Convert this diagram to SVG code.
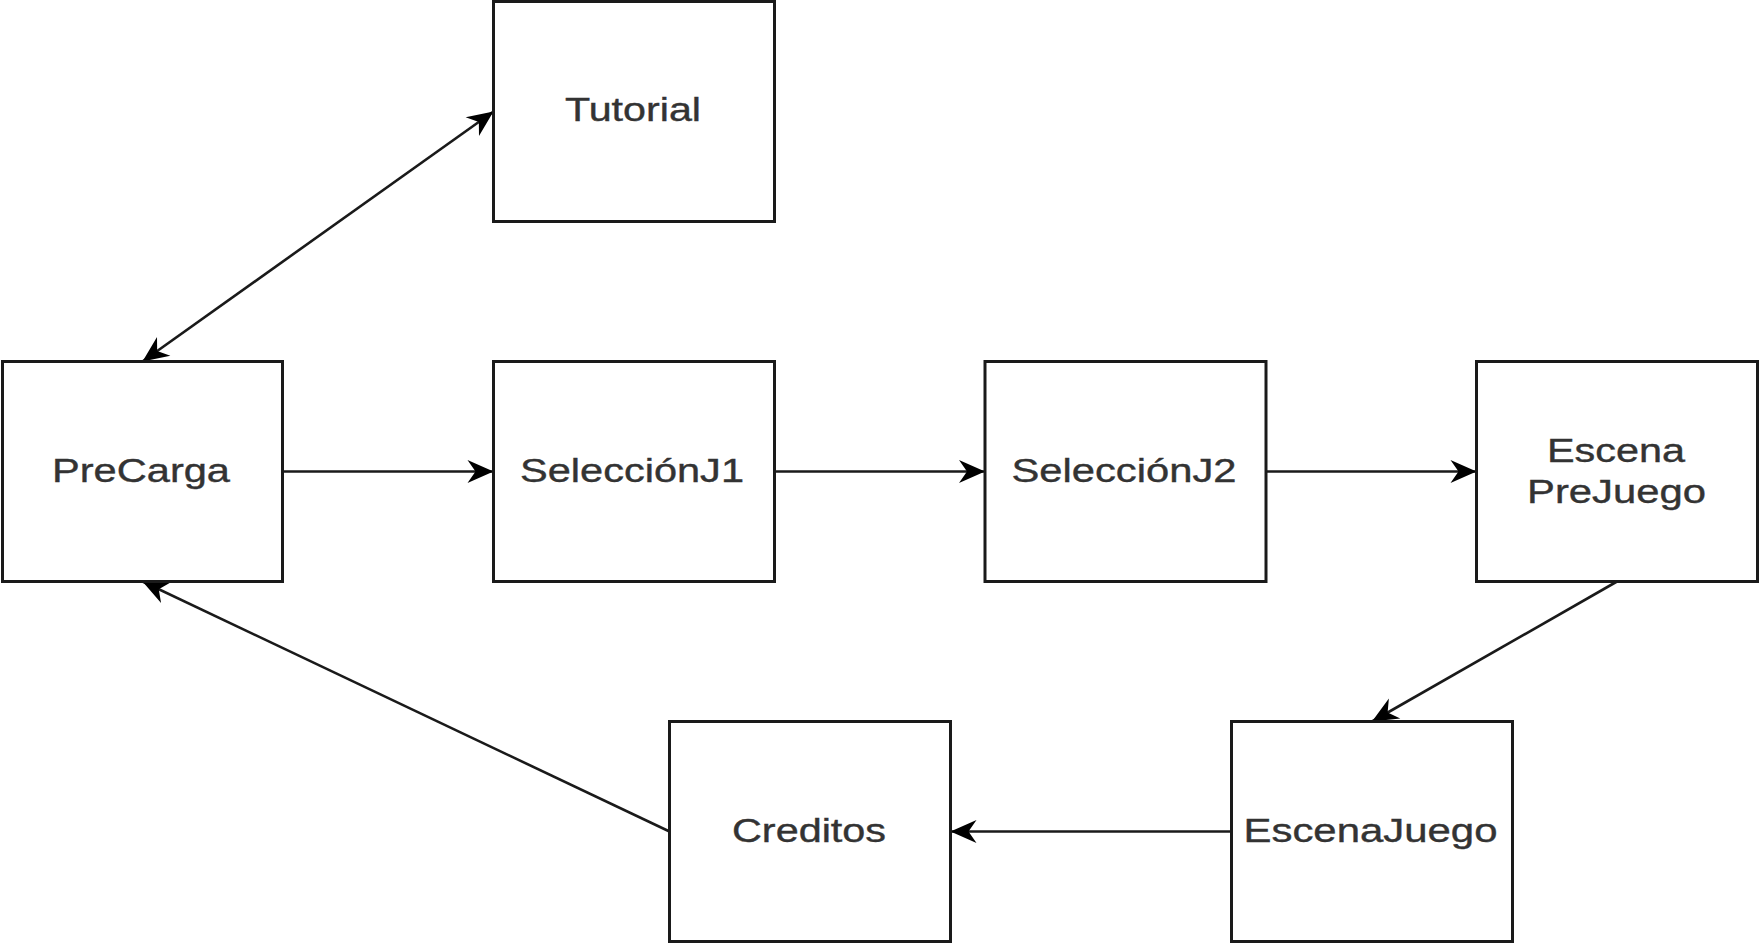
<svg xmlns="http://www.w3.org/2000/svg" width="1760" height="947" viewBox="0 0 1760 947">
<style>
.box{fill:#fff;stroke:#1a1a1a;stroke-width:3}
.lbl{font-family:"Liberation Sans",Arial,sans-serif;font-size:34px;fill:#333;text-anchor:middle;stroke:#333;stroke-width:0.4}
.edge{fill:none;stroke:#1a1a1a;stroke-width:2.6}
</style>
<defs>
<marker id="arr" viewBox="-28 -13 30 26" refX="0" refY="0" markerWidth="30" markerHeight="26" markerUnits="userSpaceOnUse" orient="auto-start-reverse">
<path d="M0,0 L-26,-11.5 L-18,0 L-26,11.5 Z" fill="#000"/>
</marker>
</defs>
<rect width="1760" height="947" fill="#fff"/>
<g id="connectors">
<line class="edge" x1="142.5" y1="361.5" x2="493.5" y2="111.5" marker-start="url(#arr)" marker-end="url(#arr)"/>
<line class="edge" x1="282.5" y1="471.5" x2="493.5" y2="471.5" marker-end="url(#arr)"/>
<line class="edge" x1="774.5" y1="471.5" x2="985" y2="471.5" marker-end="url(#arr)"/>
<line class="edge" x1="1265.5" y1="471.5" x2="1476.5" y2="471.5" marker-end="url(#arr)"/>
<line class="edge" x1="1617" y1="581.5" x2="1372" y2="721.5" marker-end="url(#arr)"/>
<line class="edge" x1="1231.5" y1="831.5" x2="950.5" y2="831.5" marker-end="url(#arr)"/>
<line class="edge" x1="669.5" y1="831.5" x2="142.5" y2="581.5" marker-end="url(#arr)"/>
</g>
<g id="tutorial">
<rect class="box" x="493.5" y="1.5" width="281" height="220"/>
<text class="lbl" x="633" y="120.7" textLength="136" lengthAdjust="spacingAndGlyphs">Tutorial</text>
</g>
<g id="precarga">
<rect class="box" x="2.5" y="361.5" width="280" height="220"/>
<text class="lbl" x="141" y="481.7" textLength="178" lengthAdjust="spacingAndGlyphs">PreCarga</text>
</g>
<g id="seleccionj1">
<rect class="box" x="493.5" y="361.5" width="281" height="220"/>
<text class="lbl" x="632" y="481.7" textLength="224" lengthAdjust="spacingAndGlyphs">SelecciónJ1</text>
</g>
<g id="seleccionj2">
<rect class="box" x="985" y="361.5" width="281" height="220"/>
<text class="lbl" x="1124" y="481.7" textLength="225" lengthAdjust="spacingAndGlyphs">SelecciónJ2</text>
</g>
<g id="escenaprejuego">
<rect class="box" x="1476.5" y="361.5" width="281" height="220"/>
<text class="lbl" x="1616" y="461.7" textLength="138" lengthAdjust="spacingAndGlyphs">Escena</text>
<text class="lbl" x="1616.5" y="503.3" textLength="179" lengthAdjust="spacingAndGlyphs">PreJuego</text>
</g>
<g id="creditos">
<rect class="box" x="669.5" y="721.5" width="281" height="220"/>
<text class="lbl" x="809" y="841.7" textLength="154" lengthAdjust="spacingAndGlyphs">Creditos</text>
</g>
<g id="escenajuego">
<rect class="box" x="1231.5" y="721.5" width="281" height="220"/>
<text class="lbl" x="1370.5" y="841.7" textLength="254" lengthAdjust="spacingAndGlyphs">EscenaJuego</text>
</g>
</svg>
